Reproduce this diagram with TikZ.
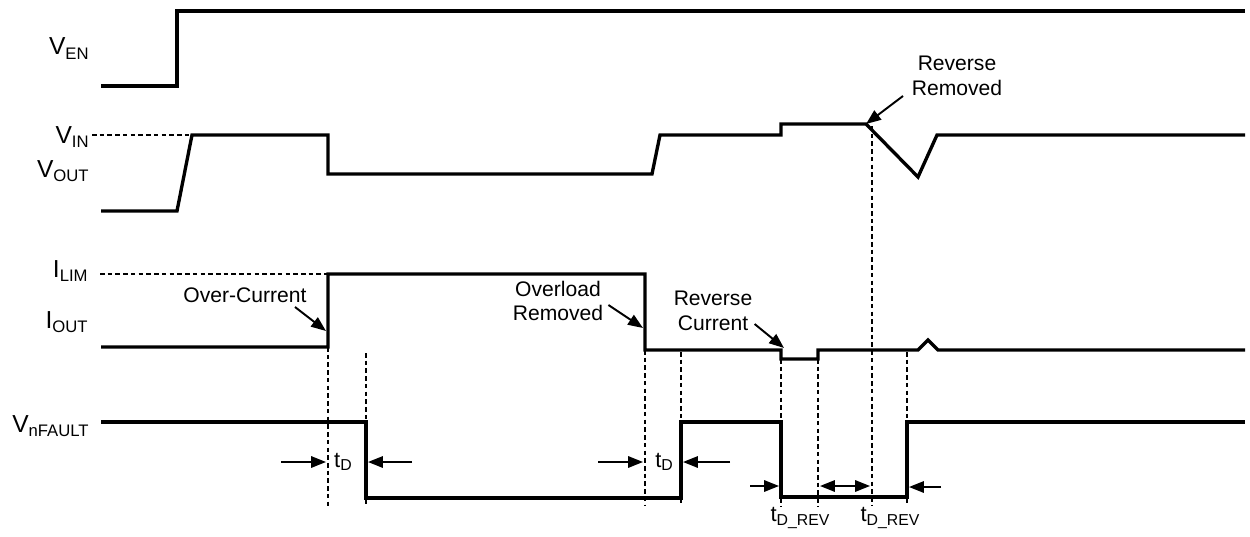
\documentclass[tikz,border=0pt]{standalone}
\usepackage{fontspec}
\setmainfont{Liberation Sans}
\usetikzlibrary{arrows.meta}
\newcommand{\signame}[2]{\fontsize{14}{15}\selectfont #1\raisebox{-2.4pt}{\fontsize{9.5}{10}\selectfont #2}}
\newcommand{\tdelay}[1]{\fontsize{12.5}{14}\selectfont t\raisebox{-2pt}{\fontsize{9}{10}\selectfont #1}}

\begin{document}
\begin{tikzpicture}[x=0.02cm, y=-0.02cm,
    wave/.style={line width=1.9pt, line join=miter},
    guide/.style={line width=0.8pt, dash pattern=on 2.6pt off 1.8pt},
    sig/.style={anchor=base east, inner sep=0pt},
    note/.style={font=\fontsize{12}{14}\selectfont, align=center, inner sep=0pt},
    pointer/.style={line width=1.1pt, -{Triangle[length=8.5pt, width=6.5pt]}},
    timing/.style={line width=1.1pt, -{Triangle[length=8.5pt, width=6.5pt]}},
]
    \useasboundingbox (0,0) rectangle (1250,537);

    % signal names
    \node[sig] (ven) at (89,55) {\signame{V}{EN}};
    \node[sig] (vin) at (89,143) {\signame{V}{IN}};
    \node[sig] (vout) at (89,177) {\signame{V}{OUT}};
    \node[sig] (ilim) at (88,277) {\signame{I}{LIM}};
    \node[sig] (iout) at (88,328) {\signame{I}{OUT}};
    \node[sig] (vflt) at (89,432) {\signame{V}{nFAULT}};

    % waveforms
    \draw[wave] (101,86) -- (177,86) -- (177,11) -- (1245,11);
    \draw[wave] (101,211) -- (177,211) -- (192,135) -- (328,135) -- (328,174) -- (652,174)
        -- (660,135) -- (781,135) -- (781,124) -- (866,124) coordinate (revoff)
        -- (918,177) -- (937,135) -- (1245,135);
    \draw[wave] (101,347) -- (328,347) -- (328,274) -- (645,274) -- (645,350) -- (781,350)
        -- (781,359) -- (818,359) -- (818,350) -- (918,350) -- (928,340) -- (938,350) -- (1245,350);
    \draw[wave] (101,422) -- (366,422) -- (366,498) -- (681,498) -- (681,422) -- (781,422)
        -- (781,497) -- (907,497) -- (907,422) -- (1245,422);

    % reference levels and markers
    \draw[guide] (92,135) -- (192,135);
    \draw[guide] (100,274) -- (328,274);
    \foreach \gx/\gtop in {328/347, 366/353, 645/350, 681/352, 781/359, 818/359, 872/126, 907/352}
        \draw[guide] (\gx,\gtop) -- (\gx,506);

    % events
    \node[note] (ocur) at (245,295) {Over-Current};
    \coordinate (ocedge) at (326,331);
    \draw[pointer] (295,307) -- (ocedge);
    \node[note] (olrem) at (558,301) {Overload\\Removed};
    \coordinate (oledge) at (643,328);
    \draw[pointer] (olrem.east) ++(5,4) -- (oledge);
    \node[note] (rcur) at (713,311) {Reverse\\Current};
    \coordinate (rcedge) at (784,348);
    \draw[pointer] (rcur.east) ++(2,13) -- (rcedge);
    \node[note] (rrem) at (957,76) {Reverse\\Removed};
    \draw[pointer] (903,96) -- (revoff);

    % delays
    \node (td1) at (343,462) {\tdelay{D}};
    \coordinate (td1a) at (281,462); \coordinate (td1b) at (412,462);
    \draw[timing] (td1a) -- (326,462);
    \draw[timing] (td1b) -- (368,462);
    \node (td2) at (664,462) {\tdelay{D}};
    \coordinate (td2a) at (598,462); \coordinate (td2b) at (730,462);
    \draw[timing] (td2a) -- (643,462);
    \draw[timing] (td2b) -- (683,462);
    \node (tr1) at (800,518) {\tdelay{D\_REV}};
    \node (tr2) at (890,518) {\tdelay{D\_REV}};
    \coordinate (tr1a) at (750,486); \coordinate (tr2a) at (941,487);
    \draw[timing] (tr1a) -- (779,486);
    \draw[line width=1.1pt, {Triangle[length=8.5pt, width=6.5pt]}-{Triangle[length=8.5pt, width=6.5pt]}] (820,486) -- (870,486);
    \draw[timing] (tr2a) -- (909,487);
\end{tikzpicture}
\end{document}
